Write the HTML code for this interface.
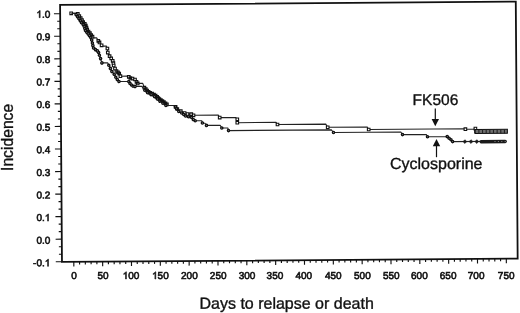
<!DOCTYPE html>
<html><head><meta charset="utf-8"><style>
html,body{margin:0;padding:0;background:#fff;width:520px;height:313px;overflow:hidden}
svg{display:block;will-change:transform}
.t{font-family:"Liberation Sans",sans-serif;fill:#111}
</style></head><body>
<svg width="520" height="313" viewBox="0 0 520 313">
<g transform="rotate(-0.4200 260 156)">
<rect x="61.2" y="3.5" width="455.70" height="257.00" fill="none" stroke="#111" stroke-width="1.8"/>
<path d="M55.00 12.24H61.2M58.20 19.76H61.2M58.20 27.27H61.2M55.00 34.79H61.2M58.20 42.31H61.2M58.20 49.82H61.2M55.00 57.34H61.2M58.20 64.86H61.2M58.20 72.37H61.2M55.00 79.89H61.2M58.20 87.41H61.2M58.20 94.92H61.2M55.00 102.44H61.2M58.20 109.96H61.2M58.20 117.47H61.2M55.00 124.99H61.2M58.20 132.51H61.2M58.20 140.02H61.2M55.00 147.54H61.2M58.20 155.06H61.2M58.20 162.57H61.2M55.00 170.09H61.2M58.20 177.61H61.2M58.20 185.12H61.2M55.00 192.64H61.2M58.20 200.16H61.2M58.20 207.67H61.2M55.00 215.19H61.2M58.20 222.71H61.2M58.20 230.22H61.2M55.00 237.74H61.2M58.20 245.26H61.2M58.20 252.77H61.2M55.00 260.29H61.2M73.03 260.5V265.10M78.80 260.5V263.10M84.56 260.5V263.10M90.33 260.5V263.10M96.10 260.5V263.10M101.87 260.5V265.10M107.63 260.5V263.10M113.40 260.5V263.10M119.17 260.5V263.10M124.93 260.5V263.10M130.70 260.5V265.10M136.47 260.5V263.10M142.23 260.5V263.10M148.00 260.5V263.10M153.77 260.5V263.10M159.53 260.5V265.10M165.30 260.5V263.10M171.07 260.5V263.10M176.84 260.5V263.10M182.60 260.5V263.10M188.37 260.5V265.10M194.14 260.5V263.10M199.90 260.5V263.10M205.67 260.5V263.10M211.44 260.5V263.10M217.21 260.5V265.10M222.97 260.5V263.10M228.74 260.5V263.10M234.51 260.5V263.10M240.27 260.5V263.10M246.04 260.5V265.10M251.81 260.5V263.10M257.57 260.5V263.10M263.34 260.5V263.10M269.11 260.5V263.10M274.88 260.5V265.10M280.64 260.5V263.10M286.41 260.5V263.10M292.18 260.5V263.10M297.94 260.5V263.10M303.71 260.5V265.10M309.48 260.5V263.10M315.24 260.5V263.10M321.01 260.5V263.10M326.78 260.5V263.10M332.54 260.5V265.10M338.31 260.5V263.10M344.08 260.5V263.10M349.85 260.5V263.10M355.61 260.5V263.10M361.38 260.5V265.10M367.15 260.5V263.10M372.91 260.5V263.10M378.68 260.5V263.10M384.45 260.5V263.10M390.22 260.5V265.10M395.98 260.5V263.10M401.75 260.5V263.10M407.52 260.5V263.10M413.28 260.5V263.10M419.05 260.5V265.10M424.82 260.5V263.10M430.58 260.5V263.10M436.35 260.5V263.10M442.12 260.5V263.10M447.88 260.5V265.10M453.65 260.5V263.10M459.42 260.5V263.10M465.19 260.5V263.10M470.95 260.5V263.10M476.72 260.5V265.10M482.49 260.5V263.10M488.25 260.5V263.10M494.02 260.5V263.10M499.79 260.5V263.10M505.55 260.5V265.10" stroke="#111" stroke-width="1.15" fill="none"/>
<path d="M72.25 11.92L77.45 12.06L78.85 12.57L80.33 14.78L81.72 16.69L83.00 18.80L84.19 20.81L85.77 22.62L86.76 24.33L87.45 26.43L88.13 28.44L89.42 30.25L90.80 31.96L92.09 33.77L93.38 35.48L94.07 36.68L97.50 36.68L99.15 39.62L100.34 41.23L102.42 44.14L103.41 44.95L107.20 44.95L108.19 47.38L108.56 51.49L110.34 55.10L111.92 57.21L113.40 59.72L114.09 61.93L114.37 64.43L115.64 67.54L117.13 69.95L118.62 71.26L119.81 72.57L120.99 75.18L127.70 75.18L129.38 75.84L130.98 77.05L133.07 77.67L135.56 78.59L137.05 80.90L138.24 82.51L143.30 82.51L144.90 86.85L146.29 88.36L147.58 89.77L149.07 90.99L150.57 92.10L152.56 92.91L154.45 93.82L156.04 94.94L157.54 96.05L158.73 97.26L159.82 98.36L161.31 99.38L162.81 100.29L164.30 101.50L165.89 102.61L167.28 103.72L167.67 104.82L175.00 104.82L175.96 106.18L177.65 108.40L181.13 110.62L184.92 112.45L187.81 113.47L189.31 113.58L191.61 113.70L193.80 114.81L218.60 114.81L219.98 117.31L235.90 117.31L237.57 119.13L237.54 122.53L276.30 122.53L277.73 124.63L326.00 124.63L327.91 127.80L367.50 127.80L368.89 130.30L465.40 130.30L465.59 130.71L474.00 130.71L475.60 130.18L476.17 133.18L507.00 133.18" stroke="#222" stroke-width="1.1" fill="none" stroke-linejoin="round"/>
<path d="M70.95 10.62h2.6v2.6h-2.6ZM77.55 11.27h2.6v2.6h-2.6ZM79.03 13.48h2.6v2.6h-2.6ZM80.42 15.39h2.6v2.6h-2.6ZM81.70 17.50h2.6v2.6h-2.6ZM82.89 19.51h2.6v2.6h-2.6ZM84.47 21.32h2.6v2.6h-2.6ZM85.46 23.03h2.6v2.6h-2.6ZM86.15 25.13h2.6v2.6h-2.6ZM86.83 27.14h2.6v2.6h-2.6ZM88.12 28.95h2.6v2.6h-2.6ZM89.50 30.66h2.6v2.6h-2.6ZM90.79 32.47h2.6v2.6h-2.6ZM92.08 34.18h2.6v2.6h-2.6ZM97.85 38.32h2.6v2.6h-2.6ZM99.04 39.93h2.6v2.6h-2.6ZM101.12 42.84h2.6v2.6h-2.6ZM106.89 46.08h2.6v2.6h-2.6ZM107.26 50.19h2.6v2.6h-2.6ZM109.04 53.80h2.6v2.6h-2.6ZM110.62 55.91h2.6v2.6h-2.6ZM112.10 58.42h2.6v2.6h-2.6ZM112.79 60.63h2.6v2.6h-2.6ZM113.07 63.13h2.6v2.6h-2.6ZM114.34 66.24h2.6v2.6h-2.6ZM115.83 68.65h2.6v2.6h-2.6ZM117.32 69.96h2.6v2.6h-2.6ZM118.51 71.27h2.6v2.6h-2.6ZM119.69 73.88h2.6v2.6h-2.6ZM128.08 74.54h2.6v2.6h-2.6ZM129.68 75.75h2.6v2.6h-2.6ZM131.77 76.37h2.6v2.6h-2.6ZM134.26 77.29h2.6v2.6h-2.6ZM135.75 79.60h2.6v2.6h-2.6ZM136.94 81.21h2.6v2.6h-2.6ZM143.60 85.55h2.6v2.6h-2.6ZM144.99 87.06h2.6v2.6h-2.6ZM146.28 88.47h2.6v2.6h-2.6ZM147.77 89.69h2.6v2.6h-2.6ZM149.27 90.80h2.6v2.6h-2.6ZM151.26 91.61h2.6v2.6h-2.6ZM153.15 92.52h2.6v2.6h-2.6ZM154.74 93.64h2.6v2.6h-2.6ZM156.24 94.75h2.6v2.6h-2.6ZM157.43 95.96h2.6v2.6h-2.6ZM158.52 97.06h2.6v2.6h-2.6ZM160.01 98.08h2.6v2.6h-2.6ZM161.51 98.99h2.6v2.6h-2.6ZM163.00 100.20h2.6v2.6h-2.6ZM164.59 101.31h2.6v2.6h-2.6ZM165.98 102.42h2.6v2.6h-2.6ZM174.66 104.88h2.6v2.6h-2.6ZM176.35 107.10h2.6v2.6h-2.6ZM179.83 109.32h2.6v2.6h-2.6ZM183.62 111.15h2.6v2.6h-2.6ZM186.51 112.17h2.6v2.6h-2.6ZM190.31 112.40h2.6v2.6h-2.6ZM192.50 113.51h2.6v2.6h-2.6ZM218.68 116.01h2.6v2.6h-2.6ZM236.27 117.83h2.6v2.6h-2.6ZM236.24 121.23h2.6v2.6h-2.6ZM276.43 123.33h2.6v2.6h-2.6ZM326.61 126.50h2.6v2.6h-2.6ZM367.59 129.00h2.6v2.6h-2.6ZM464.29 129.41h2.6v2.6h-2.6ZM474.30 128.88h2.6v2.6h-2.6ZM474.87 131.88h2.6v2.6h-2.6Z" stroke="#111" stroke-width="1.1" fill="#fff"/>
<path d="M72.25 11.92L77.45 12.06L77.14 13.26L78.63 15.47L80.01 17.38L81.30 19.49L82.48 21.50L84.07 23.31L85.06 25.01L85.74 27.12L86.43 29.12L87.71 30.93L89.10 32.64L90.39 34.45L91.67 36.16L92.55 38.77L93.23 41.77L93.71 44.38L94.40 46.78L96.28 48.40L98.17 49.71L99.36 51.42L100.14 54.03L101.32 57.43L102.59 61.74L108.30 61.74L109.47 64.19L111.05 67.31L112.52 70.42L114.80 73.13L116.38 76.15L117.86 78.46L119.55 80.47L127.70 80.47L129.35 80.64L130.54 82.45L132.02 84.06L133.52 85.17L135.51 85.49L142.30 85.49L145.29 89.36L148.07 91.98L151.55 93.90L155.04 95.93L157.72 98.25L160.31 100.37L163.29 102.49L166.27 104.71L167.67 104.82L175.00 104.82L175.76 106.18L176.85 108.19L179.13 110.91L182.02 112.43L184.11 113.94L185.90 115.46L188.79 116.28L191.59 116.80L193.57 119.01L195.46 120.33L202.00 120.33L202.64 122.58L205.24 122.80L206.73 125.01L220.40 125.01L222.01 127.72L228.00 127.72L228.69 130.37L331.60 130.37L333.67 133.04L401.00 133.04L402.65 135.65L426.50 135.65L427.64 138.03L446.00 138.03L447.34 137.97L449.23 139.59L451.11 141.20L452.70 143.01L507.00 143.01" stroke="#222" stroke-width="1.1" fill="none" stroke-linejoin="round"/>
<path d="M76.04 13.26a1.1 1.1 0 1 0 2.2 0a1.1 1.1 0 1 0 -2.2 0ZM77.53 15.47a1.1 1.1 0 1 0 2.2 0a1.1 1.1 0 1 0 -2.2 0ZM78.91 17.38a1.1 1.1 0 1 0 2.2 0a1.1 1.1 0 1 0 -2.2 0ZM80.20 19.49a1.1 1.1 0 1 0 2.2 0a1.1 1.1 0 1 0 -2.2 0ZM81.38 21.50a1.1 1.1 0 1 0 2.2 0a1.1 1.1 0 1 0 -2.2 0ZM82.97 23.31a1.1 1.1 0 1 0 2.2 0a1.1 1.1 0 1 0 -2.2 0ZM83.96 25.01a1.1 1.1 0 1 0 2.2 0a1.1 1.1 0 1 0 -2.2 0ZM84.64 27.12a1.1 1.1 0 1 0 2.2 0a1.1 1.1 0 1 0 -2.2 0ZM85.33 29.12a1.1 1.1 0 1 0 2.2 0a1.1 1.1 0 1 0 -2.2 0ZM86.61 30.93a1.1 1.1 0 1 0 2.2 0a1.1 1.1 0 1 0 -2.2 0ZM88.00 32.64a1.1 1.1 0 1 0 2.2 0a1.1 1.1 0 1 0 -2.2 0ZM89.29 34.45a1.1 1.1 0 1 0 2.2 0a1.1 1.1 0 1 0 -2.2 0ZM90.57 36.16a1.1 1.1 0 1 0 2.2 0a1.1 1.1 0 1 0 -2.2 0ZM91.45 38.77a1.1 1.1 0 1 0 2.2 0a1.1 1.1 0 1 0 -2.2 0ZM92.13 41.77a1.1 1.1 0 1 0 2.2 0a1.1 1.1 0 1 0 -2.2 0ZM92.61 44.38a1.1 1.1 0 1 0 2.2 0a1.1 1.1 0 1 0 -2.2 0ZM93.30 46.78a1.1 1.1 0 1 0 2.2 0a1.1 1.1 0 1 0 -2.2 0ZM95.18 48.40a1.1 1.1 0 1 0 2.2 0a1.1 1.1 0 1 0 -2.2 0ZM97.07 49.71a1.1 1.1 0 1 0 2.2 0a1.1 1.1 0 1 0 -2.2 0ZM98.26 51.42a1.1 1.1 0 1 0 2.2 0a1.1 1.1 0 1 0 -2.2 0ZM99.04 54.03a1.1 1.1 0 1 0 2.2 0a1.1 1.1 0 1 0 -2.2 0ZM100.22 57.43a1.1 1.1 0 1 0 2.2 0a1.1 1.1 0 1 0 -2.2 0ZM101.49 61.74a1.1 1.1 0 1 0 2.2 0a1.1 1.1 0 1 0 -2.2 0ZM108.37 64.19a1.1 1.1 0 1 0 2.2 0a1.1 1.1 0 1 0 -2.2 0ZM109.95 67.31a1.1 1.1 0 1 0 2.2 0a1.1 1.1 0 1 0 -2.2 0ZM111.42 70.42a1.1 1.1 0 1 0 2.2 0a1.1 1.1 0 1 0 -2.2 0ZM113.70 73.13a1.1 1.1 0 1 0 2.2 0a1.1 1.1 0 1 0 -2.2 0ZM115.28 76.15a1.1 1.1 0 1 0 2.2 0a1.1 1.1 0 1 0 -2.2 0ZM116.76 78.46a1.1 1.1 0 1 0 2.2 0a1.1 1.1 0 1 0 -2.2 0ZM118.45 80.47a1.1 1.1 0 1 0 2.2 0a1.1 1.1 0 1 0 -2.2 0ZM128.25 80.64a1.1 1.1 0 1 0 2.2 0a1.1 1.1 0 1 0 -2.2 0ZM129.44 82.45a1.1 1.1 0 1 0 2.2 0a1.1 1.1 0 1 0 -2.2 0ZM130.92 84.06a1.1 1.1 0 1 0 2.2 0a1.1 1.1 0 1 0 -2.2 0ZM132.42 85.17a1.1 1.1 0 1 0 2.2 0a1.1 1.1 0 1 0 -2.2 0ZM134.41 85.49a1.1 1.1 0 1 0 2.2 0a1.1 1.1 0 1 0 -2.2 0ZM144.19 89.36a1.1 1.1 0 1 0 2.2 0a1.1 1.1 0 1 0 -2.2 0ZM146.97 91.98a1.1 1.1 0 1 0 2.2 0a1.1 1.1 0 1 0 -2.2 0ZM150.45 93.90a1.1 1.1 0 1 0 2.2 0a1.1 1.1 0 1 0 -2.2 0ZM153.94 95.93a1.1 1.1 0 1 0 2.2 0a1.1 1.1 0 1 0 -2.2 0ZM156.62 98.25a1.1 1.1 0 1 0 2.2 0a1.1 1.1 0 1 0 -2.2 0ZM159.21 100.37a1.1 1.1 0 1 0 2.2 0a1.1 1.1 0 1 0 -2.2 0ZM162.19 102.49a1.1 1.1 0 1 0 2.2 0a1.1 1.1 0 1 0 -2.2 0ZM165.17 104.71a1.1 1.1 0 1 0 2.2 0a1.1 1.1 0 1 0 -2.2 0ZM174.66 106.18a1.1 1.1 0 1 0 2.2 0a1.1 1.1 0 1 0 -2.2 0ZM175.75 108.19a1.1 1.1 0 1 0 2.2 0a1.1 1.1 0 1 0 -2.2 0ZM178.03 110.91a1.1 1.1 0 1 0 2.2 0a1.1 1.1 0 1 0 -2.2 0ZM180.92 112.43a1.1 1.1 0 1 0 2.2 0a1.1 1.1 0 1 0 -2.2 0ZM183.01 113.94a1.1 1.1 0 1 0 2.2 0a1.1 1.1 0 1 0 -2.2 0ZM184.80 115.46a1.1 1.1 0 1 0 2.2 0a1.1 1.1 0 1 0 -2.2 0ZM187.69 116.28a1.1 1.1 0 1 0 2.2 0a1.1 1.1 0 1 0 -2.2 0ZM190.49 116.80a1.1 1.1 0 1 0 2.2 0a1.1 1.1 0 1 0 -2.2 0ZM192.47 119.01a1.1 1.1 0 1 0 2.2 0a1.1 1.1 0 1 0 -2.2 0ZM194.36 120.33a1.1 1.1 0 1 0 2.2 0a1.1 1.1 0 1 0 -2.2 0ZM201.54 122.58a1.1 1.1 0 1 0 2.2 0a1.1 1.1 0 1 0 -2.2 0ZM205.63 125.01a1.1 1.1 0 1 0 2.2 0a1.1 1.1 0 1 0 -2.2 0ZM220.91 127.72a1.1 1.1 0 1 0 2.2 0a1.1 1.1 0 1 0 -2.2 0ZM227.59 130.37a1.1 1.1 0 1 0 2.2 0a1.1 1.1 0 1 0 -2.2 0ZM332.57 133.04a1.1 1.1 0 1 0 2.2 0a1.1 1.1 0 1 0 -2.2 0ZM401.55 135.65a1.1 1.1 0 1 0 2.2 0a1.1 1.1 0 1 0 -2.2 0ZM426.54 138.03a1.1 1.1 0 1 0 2.2 0a1.1 1.1 0 1 0 -2.2 0ZM446.24 137.97a1.1 1.1 0 1 0 2.2 0a1.1 1.1 0 1 0 -2.2 0ZM448.13 139.59a1.1 1.1 0 1 0 2.2 0a1.1 1.1 0 1 0 -2.2 0ZM450.01 141.20a1.1 1.1 0 1 0 2.2 0a1.1 1.1 0 1 0 -2.2 0ZM451.60 143.01a1.1 1.1 0 1 0 2.2 0a1.1 1.1 0 1 0 -2.2 0Z" stroke="#111" stroke-width="1.4" fill="#fff"/>
<rect x="475.37" y="131.18" width="32.20" height="3.8" fill="#6e6e6e" stroke="#111" stroke-width="1.0"/>
<path d="M479.07 131.21v3.8M482.72 131.23v3.8M486.37 131.26v3.8M490.02 131.29v3.8M493.67 131.31v3.8M497.32 131.34v3.8M500.97 131.37v3.8M504.62 131.39v3.8" stroke="#222" stroke-width="1.1"/>
<path d="M465.00 141.20l1.9 1.9l-1.9 1.9l-1.9 -1.9ZM471.10 141.25l1.9 1.9l-1.9 1.9l-1.9 -1.9ZM476.90 141.29l1.9 1.9l-1.9 1.9l-1.9 -1.9Z" fill="#1a1a1a" stroke="#1a1a1a" stroke-width="0.6"/>
<rect x="479.60" y="141.61" width="27.30" height="3.4" rx="1.6" fill="#1a1a1a"/>
<path d="M494.60 142.82h1v1h-1ZM498.00 142.85h1v1h-1ZM501.40 142.87h1v1h-1ZM504.80 142.90h1v1h-1Z" fill="#888"/>
</g>
<text x="50.30" y="17.70" transform="rotate(0.05 50.30 17.70)" text-anchor="end" font-size="10" class="t" stroke="#111" stroke-width="0.6"> .0</text>
<path d="M763 0L583 0L583 1147C540 1106 483 1064 412 1023C341 982 277 950 222 929L222 1103C322 1150 410 1207 485 1273C560 1339 613 1404 644 1466L763 1466Z" transform="translate(36.40 17.70) scale(0.004883 -0.004883)" fill="#111" stroke="#111" stroke-width="122.9"/>
<text x="50.30" y="40.30" transform="rotate(0.05 50.30 40.30)" text-anchor="end" font-size="10" class="t" stroke="#111" stroke-width="0.6">0.9</text>
<text x="50.30" y="62.90" transform="rotate(0.05 50.30 62.90)" text-anchor="end" font-size="10" class="t" stroke="#111" stroke-width="0.6">0.8</text>
<text x="50.30" y="85.50" transform="rotate(0.05 50.30 85.50)" text-anchor="end" font-size="10" class="t" stroke="#111" stroke-width="0.6">0.7</text>
<text x="50.30" y="108.10" transform="rotate(0.05 50.30 108.10)" text-anchor="end" font-size="10" class="t" stroke="#111" stroke-width="0.6">0.6</text>
<text x="50.30" y="130.70" transform="rotate(0.05 50.30 130.70)" text-anchor="end" font-size="10" class="t" stroke="#111" stroke-width="0.6">0.5</text>
<text x="50.30" y="153.30" transform="rotate(0.05 50.30 153.30)" text-anchor="end" font-size="10" class="t" stroke="#111" stroke-width="0.6">0.4</text>
<text x="50.30" y="175.90" transform="rotate(0.05 50.30 175.90)" text-anchor="end" font-size="10" class="t" stroke="#111" stroke-width="0.6">0.3</text>
<text x="50.30" y="198.50" transform="rotate(0.05 50.30 198.50)" text-anchor="end" font-size="10" class="t" stroke="#111" stroke-width="0.6">0.2</text>
<text x="50.30" y="221.10" transform="rotate(0.05 50.30 221.10)" text-anchor="end" font-size="10" class="t" stroke="#111" stroke-width="0.6">0. </text>
<path d="M763 0L583 0L583 1147C540 1106 483 1064 412 1023C341 982 277 950 222 929L222 1103C322 1150 410 1207 485 1273C560 1339 613 1404 644 1466L763 1466Z" transform="translate(44.74 221.10) scale(0.004883 -0.004883)" fill="#111" stroke="#111" stroke-width="122.9"/>
<text x="50.30" y="243.70" transform="rotate(0.05 50.30 243.70)" text-anchor="end" font-size="10" class="t" stroke="#111" stroke-width="0.6">0.0</text>
<text x="50.30" y="266.30" transform="rotate(0.05 50.30 266.30)" text-anchor="end" font-size="10" class="t" stroke="#111" stroke-width="0.6">-0. </text>
<path d="M763 0L583 0L583 1147C540 1106 483 1064 412 1023C341 982 277 950 222 929L222 1103C322 1150 410 1207 485 1273C560 1339 613 1404 644 1466L763 1466Z" transform="translate(44.74 266.30) scale(0.004883 -0.004883)" fill="#111" stroke="#111" stroke-width="122.9"/>
<text x="73.91" y="279.00" transform="rotate(0.05 73.91 279.00)" text-anchor="middle" font-size="10" class="t" stroke="#111" stroke-width="0.6">0</text>
<text x="103.06" y="279.00" transform="rotate(0.05 103.06 279.00)" text-anchor="middle" font-size="10" class="t" stroke="#111" stroke-width="0.6">50</text>
<text x="131.02" y="279.00" transform="rotate(0.05 131.02 279.00)" text-anchor="middle" font-size="10" class="t" stroke="#111" stroke-width="0.6"> 00</text>
<path d="M763 0L583 0L583 1147C540 1106 483 1064 412 1023C341 982 277 950 222 929L222 1103C322 1150 410 1207 485 1273C560 1339 613 1404 644 1466L763 1466Z" transform="translate(122.68 279.00) scale(0.004883 -0.004883)" fill="#111" stroke="#111" stroke-width="122.9"/>
<text x="160.41" y="279.00" transform="rotate(0.05 160.41 279.00)" text-anchor="middle" font-size="10" class="t" stroke="#111" stroke-width="0.6"> 50</text>
<path d="M763 0L583 0L583 1147C540 1106 483 1064 412 1023C341 982 277 950 222 929L222 1103C322 1150 410 1207 485 1273C560 1339 613 1404 644 1466L763 1466Z" transform="translate(152.07 279.00) scale(0.004883 -0.004883)" fill="#111" stroke="#111" stroke-width="122.9"/>
<text x="189.42" y="279.00" transform="rotate(0.05 189.42 279.00)" text-anchor="middle" font-size="10" class="t" stroke="#111" stroke-width="0.6">200</text>
<text x="218.18" y="279.00" transform="rotate(0.05 218.18 279.00)" text-anchor="middle" font-size="10" class="t" stroke="#111" stroke-width="0.6">250</text>
<text x="246.97" y="279.00" transform="rotate(0.05 246.97 279.00)" text-anchor="middle" font-size="10" class="t" stroke="#111" stroke-width="0.6">300</text>
<text x="274.93" y="279.00" transform="rotate(0.05 274.93 279.00)" text-anchor="middle" font-size="10" class="t" stroke="#111" stroke-width="0.6">350</text>
<text x="303.72" y="279.00" transform="rotate(0.05 303.72 279.00)" text-anchor="middle" font-size="10" class="t" stroke="#111" stroke-width="0.6">400</text>
<text x="333.24" y="279.00" transform="rotate(0.05 333.24 279.00)" text-anchor="middle" font-size="10" class="t" stroke="#111" stroke-width="0.6">450</text>
<text x="362.39" y="279.00" transform="rotate(0.05 362.39 279.00)" text-anchor="middle" font-size="10" class="t" stroke="#111" stroke-width="0.6">500</text>
<text x="391.24" y="279.00" transform="rotate(0.05 391.24 279.00)" text-anchor="middle" font-size="10" class="t" stroke="#111" stroke-width="0.6">550</text>
<text x="419.38" y="279.00" transform="rotate(0.05 419.38 279.00)" text-anchor="middle" font-size="10" class="t" stroke="#111" stroke-width="0.6">600</text>
<text x="448.17" y="279.00" transform="rotate(0.05 448.17 279.00)" text-anchor="middle" font-size="10" class="t" stroke="#111" stroke-width="0.6">650</text>
<text x="476.13" y="279.00" transform="rotate(0.05 476.13 279.00)" text-anchor="middle" font-size="10" class="t" stroke="#111" stroke-width="0.6">700</text>
<text x="506.18" y="279.00" transform="rotate(0.05 506.18 279.00)" text-anchor="middle" font-size="10" class="t" stroke="#111" stroke-width="0.6">750</text>
<text x="13.0" y="137.4" transform="rotate(-90 13.0 137.4)" text-anchor="middle" font-size="15.7" class="t" stroke="#111" stroke-width="0.35">Incidence</text>
<text x="199.5" y="308.7" transform="rotate(0.05 199.5 308.7)" font-size="16" class="t" stroke="#111" stroke-width="0.35">Days to relapse or death</text>
<text x="412.6" y="105.0" transform="rotate(0.05 412.6 105)" font-size="15.5" class="t" stroke="#111" stroke-width="0.35">FK506</text>
<text x="390.0" y="169.0" transform="rotate(0.05 390 169)" font-size="16" class="t" stroke="#111" stroke-width="0.35">Cyclosporine</text>
<path d="M435.3 108.5V120.3" stroke="#111" stroke-width="1.2"/><path d="M431.60 119.10L439.00 119.10L435.30 126.30Z" fill="#111"/>
<path d="M436.5 157.2V145.1" stroke="#111" stroke-width="1.2"/><path d="M432.80 146.30L440.20 146.30L436.50 139.10Z" fill="#111"/>
</svg>
</body></html>
